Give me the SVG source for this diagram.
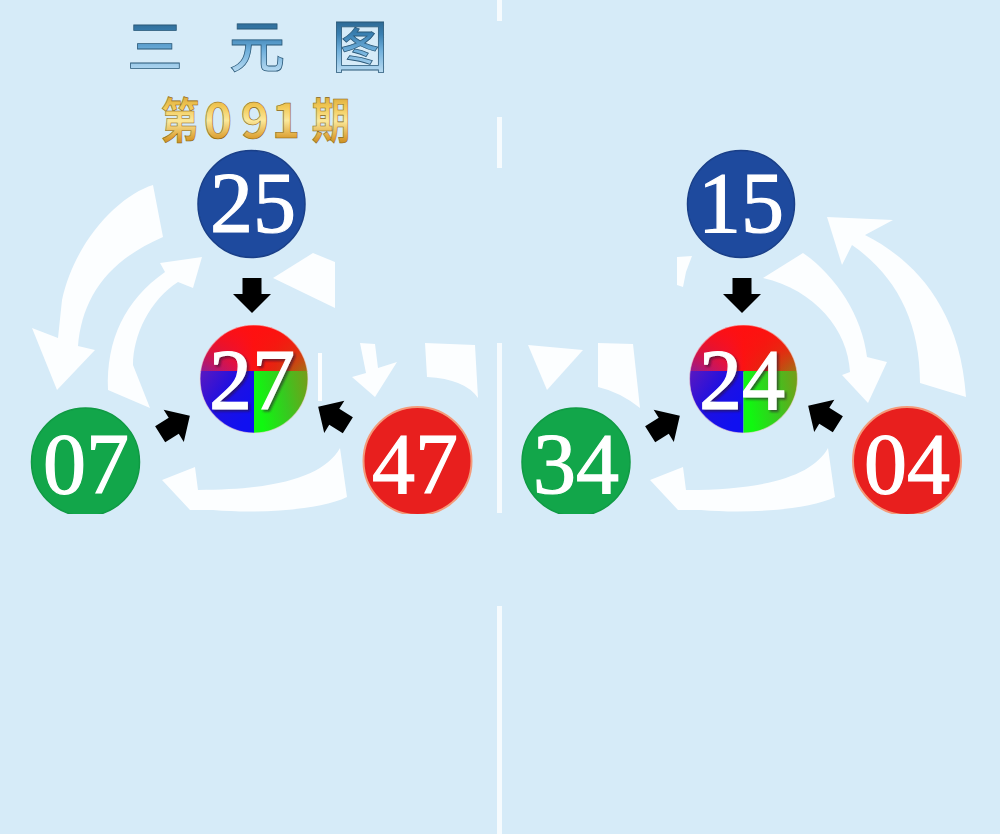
<svg xmlns="http://www.w3.org/2000/svg" xmlns:xlink="http://www.w3.org/1999/xlink" width="1000" height="834" viewBox="0 0 1000 834">
<style>
.bg{fill:#d6ebf8}
.div{fill:#f6fbfe}
.wa{fill:#ffffff;opacity:0.92}
.num{font-family:"Liberation Serif","DejaVu Serif",serif;font-size:86px;fill:#ffffff;stroke:#ffffff;stroke-width:1.2;text-anchor:middle}
.rn{filter:url(#fShadow)}
.blue{fill:#1e4a9e;stroke:#1a3f88;stroke-width:1.5}
.green{fill:#12a64a;stroke:#109a44;stroke-width:1.5}
.red{fill:#e81f1e;stroke:#f49a7a;stroke-width:2}
.ttl{font-family:"Noto Sans CJK SC","Noto Sans CJK JP",sans-serif;font-weight:500;font-size:56px;fill:url(#gTitle);stroke:#2a5878;stroke-width:0.8;text-anchor:middle}
.iss{font-family:"Noto Sans CJK SC","Noto Sans CJK JP",sans-serif;font-weight:700;font-size:48px;fill:url(#gGold);stroke:#8a6410;stroke-width:0.6;text-anchor:middle}
</style>
<defs>
<filter id="fShadow" x="-20%" y="-20%" width="140%" height="140%">
<feDropShadow dx="2" dy="2" stdDeviation="0.8" flood-color="#2a0a30" flood-opacity="0.6"/>
</filter>
<linearGradient id="gTitle" x1="0" y1="0" x2="0" y2="1">
<stop offset="0" stop-color="#1c4868"/>
<stop offset="0.4" stop-color="#3a80b2"/>
<stop offset="0.6" stop-color="#70b0dc"/>
<stop offset="1" stop-color="#dcf0fc"/>
</linearGradient>
<linearGradient id="gGold" x1="0" y1="0" x2="0" y2="1">
<stop offset="0" stop-color="#c08a24"/>
<stop offset="0.35" stop-color="#f2c855"/>
<stop offset="0.55" stop-color="#fbe89a"/>
<stop offset="0.8" stop-color="#dca032"/>
<stop offset="1" stop-color="#a07016"/>
</linearGradient>
<linearGradient id="gUpH" gradientUnits="userSpaceOnUse" x1="-54" y1="0" x2="54" y2="0">
<stop offset="0" stop-color="#7a1eb0"/>
<stop offset="0.35" stop-color="#d81258"/>
<stop offset="0.5" stop-color="#fa1414"/>
<stop offset="0.7" stop-color="#d83010"/>
<stop offset="1" stop-color="#8c8a14"/>
</linearGradient>
<linearGradient id="gUpV" gradientUnits="userSpaceOnUse" x1="0" y1="-54" x2="0" y2="0">
<stop offset="0" stop-color="#ff1010" stop-opacity="1"/>
<stop offset="0.45" stop-color="#ff1010" stop-opacity="0.7"/>
<stop offset="1" stop-color="#ff1010" stop-opacity="0"/>
</linearGradient>
<linearGradient id="gBL" gradientUnits="userSpaceOnUse" x1="-54" y1="-8" x2="0" y2="30">
<stop offset="0" stop-color="#5a18c0"/>
<stop offset="0.5" stop-color="#2010e0"/>
<stop offset="1" stop-color="#1010f0"/>
</linearGradient>
<linearGradient id="gBR" gradientUnits="userSpaceOnUse" x1="0" y1="0" x2="54" y2="-10">
<stop offset="0" stop-color="#10f810"/>
<stop offset="0.5" stop-color="#38c820"/>
<stop offset="1" stop-color="#7a9a18"/>
</linearGradient>
<clipPath id="cRain"><circle cx="0" cy="0" r="54"/></clipPath>
<clipPath id="cCut"><rect x="0" y="0" width="1000" height="514"/></clipPath>
<g id="rainbow">
<g clip-path="url(#cRain)">
<rect x="-55" y="-55" width="110" height="48" fill="url(#gUpH)"/>
<rect x="-55" y="-55" width="110" height="48" fill="url(#gUpV)"/>
<rect x="-55" y="-8" width="55" height="63" fill="url(#gBL)"/>
<rect x="0" y="-8" width="55" height="63" fill="url(#gBR)"/>
</g>
<circle cx="0" cy="0" r="54" fill="none" stroke="#f0d8d8" stroke-opacity="0.6" stroke-width="1.2"/>
</g>
<polygon id="barrow" points="-9.5,-17.5 9.5,-17.5 9.5,-1.5 19,-1.5 0,17.5 -19,-1.5 -9.5,-1.5" fill="#000000"/>
</defs>

<rect class="bg" x="0" y="0" width="1000" height="834"/>

<g id="divider">
<rect class="div" x="497" y="0" width="5" height="21"/>
<rect class="div" x="497" y="117" width="5" height="51"/>
<rect class="div" x="497" y="343" width="5" height="170"/>
<rect class="div" x="497" y="606" width="5" height="228"/>
</g>

<g id="title">
<text class="ttl" x="155" y="67">三</text>
<text class="ttl" x="257" y="67">元</text>
<text class="ttl" x="360" y="67">图</text>
</g>
<g id="issue">
<text class="iss" transform="translate(180,138) scale(0.8,1)">第</text>
<text class="iss" x="218" y="138">0</text>
<text class="iss" x="255" y="138">9</text>
<text class="iss" x="286" y="138">1</text>
<text class="iss" transform="translate(331,138) scale(0.8,1)">期</text>
</g>

<g id="connectors" clip-path="url(#cCut)">
<path class="wa" d="M153,185 C120,195 75,240 62,300 L58,338 L32,328 L57,390 L95,350 L78,346 C82,300 105,262 163,237 Z"/>
<path class="wa" d="M108,390 C106,340 125,300 165,272 L160,263 L202,257 L193,288 L178,282 C150,300 133,335 133,365 L150,408 Z"/>
<path class="wa" d="M273,278 L313,253 L335,262 L335,308 Z"/>
<path class="wa" d="M360,343 L375,344 L378,368 L397,362 L375,397 L352,377 L366,373 Z"/>
<path class="wa" d="M425,343 L475,345 L478,398 Q465,379 427,377 Z"/>
<rect class="wa" x="318" y="353" width="4" height="48"/>
<path id="botArc" class="wa" d="M340,448 C325,475 280,490 198,490 L195,467 L162,480 L190,510 L213,510 C260,514 320,510 347,497 Z"/>
<path class="wa" d="M827,217 L893,220 L865,235 C905,255 960,300 966,397 L920,383 C920,320 895,275 852,245 L842,265 Z"/>
<path class="wa" d="M803,253 C835,275 862,315 867,357 L887,362 L868,403 L842,375 L850,372 C848,330 815,290 763,278 Z"/>
<path class="wa" d="M677,257 L692,256 L686,272 L683,287 L677,285 Z"/>
<path class="wa" d="M528,345 L583,350 L547,390 Z"/>
<path class="wa" d="M598,343 L633,344 L640,408 Q620,392 598,387 Z"/>
<use xlink:href="#botArc" href="#botArc" transform="translate(488,0)"/>
<use xlink:href="#barrow" href="#barrow" transform="translate(252,295.5)"/>
<use xlink:href="#barrow" href="#barrow" transform="translate(175,425) rotate(-122)"/>
<use xlink:href="#barrow" href="#barrow" transform="translate(333,416) rotate(122)"/>
<use xlink:href="#barrow" href="#barrow" transform="translate(742,295.5)"/>
<use xlink:href="#barrow" href="#barrow" transform="translate(665,425) rotate(-122)"/>
<use xlink:href="#barrow" href="#barrow" transform="translate(823,415) rotate(122)"/>
</g>

<g id="n25">
<circle class="blue" cx="251.5" cy="204" r="53.5"/>
<text class="num" x="253" y="232">25</text>
</g>
<g id="n27">
<use xlink:href="#rainbow" href="#rainbow" transform="translate(254,379)"/>
<text class="num rn" x="252" y="409">27</text>
</g>
<g id="n07" clip-path="url(#cCut)">
<circle class="green" cx="85.5" cy="462" r="54"/>
<text class="num" x="86" y="493">07</text>
</g>
<g id="n47" clip-path="url(#cCut)">
<circle class="red" cx="417.5" cy="461" r="54"/>
<text class="num" x="415" y="493">47</text>
</g>

<g id="n15">
<circle class="blue" cx="741" cy="204" r="53.5"/>
<text class="num" x="741" y="232">15</text>
</g>
<g id="n24">
<use xlink:href="#rainbow" href="#rainbow" transform="translate(743.5,379)"/>
<text class="num rn" x="742" y="409">24</text>
</g>
<g id="n34" clip-path="url(#cCut)">
<circle class="green" cx="576" cy="462" r="54"/>
<text class="num" x="576" y="493">34</text>
</g>
<g id="n04" clip-path="url(#cCut)">
<circle class="red" cx="907" cy="461" r="54"/>
<text class="num" x="907" y="493">04</text>
</g>
</svg>
